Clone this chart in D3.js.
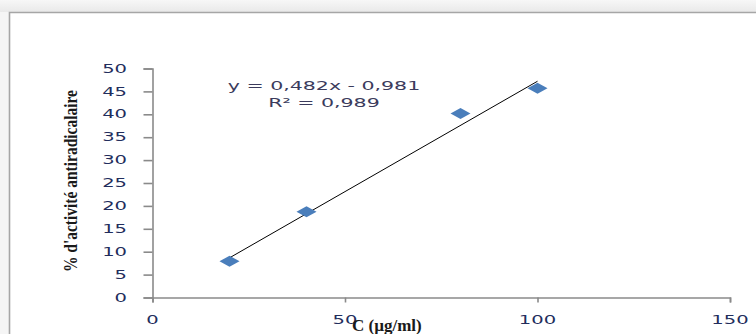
<!DOCTYPE html>
<html>
<head>
<meta charset="utf-8">
<script src="https://cdn.jsdelivr.net/npm/d3@7"></script>
<style>
  body { margin: 0; background: #fff; }
  svg { display: block; }
</style>
</head>
<body>
<div id="chart"></div>
<script>
// data
const concentrations = [20, 40, 80, 100];
const activity = [7.9, 18.7, 40.2, 45.7];
const xTickValues = [0, 50, 100, 150];
const yTickValues = [0, 5, 10, 15, 20, 25, 30, 35, 40, 45, 50];
const slope = 0.482, intercept = -0.981;
const equationLines = ["y = 0,482x - 0,981", "R² = 0,989"];

const width = 756, height = 334;
const svg = d3.select("#chart").append("svg")
    .attr("width", width)
    .attr("height", height);

// light grey strip around the chart frame
let grad = svg.append("defs").append("linearGradient")
    .attr("id", "topfade").attr("x1", 0).attr("y1", 0).attr("x2", 0).attr("y2", 1);
grad.append("stop").attr("offset", "0%").attr("stop-color", "#f7f7f7");
grad.append("stop").attr("offset", "100%").attr("stop-color", "#e9e9e9");
svg.append("rect").attr("x", 0).attr("y", 0).attr("width", width).attr("height", height).attr("fill", "#f5f5f5");
svg.append("rect").attr("x", 0).attr("y", 0).attr("width", width).attr("height", 12).attr("fill", "url(#topfade)");
svg.append("rect").attr("x", 9).attr("y", 12).attr("width", width).attr("height", height)
    .attr("fill", "#fff");
svg.append("path")
    .attr("d", "M9.5," + height + "V12.5H" + width)
    .attr("fill", "none").attr("stroke", "#a6a6a6").attr("stroke-width", 1.6);

// scales
let x = d3.scaleLinear().domain([0, 150]).range([152.5, 730]);
let y = d3.scaleLinear().domain([0, 50]).range([297.5, 68.5]);

const axisColor = "#8a8a8a";
const labelColor = "#222d5c";

// Y axis
svg.append("g")
    .attr("transform", "translate(" + x(0) + ",0)")
    .call(d3.axisLeft(y).tickValues(yTickValues).tickSize(9).tickFormat(""));
// X axis
svg.append("g")
    .attr("transform", "translate(0," + y(0) + ")")
    .call(d3.axisBottom(x).tickValues(xTickValues).tickSize(5).tickFormat(""));
svg.selectAll(".domain, .tick line")
    .attr("stroke", axisColor).attr("stroke-width", 1.6);

// tick labels (wide Verdana-like look, stretched horizontally)
svg.append("g").selectAll("text")
    .data(yTickValues)
    .join("text")
    .attr("transform", d => "translate(127," + y(d) + ") scale(1.7,1)")
    .attr("text-anchor", "end")
    .attr("dy", "0.36em")
    .attr("font-family", "DejaVu Sans")
    .attr("font-size", 11.5)
    .attr("fill", labelColor)
    .text(d => d);

svg.append("g").selectAll("text")
    .data(xTickValues)
    .join("text")
    .attr("transform", d => "translate(" + x(d) + ",320) scale(1.7,1)")
    .attr("text-anchor", "middle")
    .attr("dy", "0.36em")
    .attr("font-family", "DejaVu Sans")
    .attr("font-size", 11.5)
    .attr("fill", labelColor)
    .text(d => d);

// axis titles
svg.append("text")
    .attr("x", 352).attr("y", 331)
    .attr("font-family", "Liberation Serif")
    .attr("font-weight", "bold")
    .attr("font-size", 17)
    .attr("fill", "#1a1a1a")
    .text("C (µg/ml)");

svg.append("text")
    .attr("transform", "translate(77,181) rotate(-90)")
    .attr("text-anchor", "middle")
    .attr("font-family", "Liberation Serif")
    .attr("font-weight", "bold")
    .attr("font-size", 18)
    .attr("textLength", 182)
    .attr("lengthAdjust", "spacingAndGlyphs")
    .attr("fill", "#1a1a1a")
    .text("% d'activité antiradicalaire");

// linear trendline
let xExt = d3.extent(concentrations);
svg.append("line")
    .attr("x1", x(xExt[0])).attr("y1", y(slope * xExt[0] + intercept))
    .attr("x2", x(xExt[1])).attr("y2", y(slope * xExt[1] + intercept))
    .attr("stroke", "#000").attr("stroke-width", 1);

// diamond markers
svg.append("g").selectAll("path")
    .data(concentrations)
    .join("path")
    .attr("transform", (d, i) => "translate(" + x(d) + "," + y(activity[i]) + ")")
    .attr("d", "M-10,0L0,-5.5L10,0L0,5.5Z")
    .attr("fill", "#4a7ebb");

// equation label
svg.append("g").selectAll("text")
    .data(equationLines)
    .join("text")
    .attr("transform", (d, i) => "translate(324," + (85 + i * 17) + ") scale(1.58,1)")
    .attr("text-anchor", "middle")
    .attr("dy", "0.36em")
    .attr("font-family", "DejaVu Sans")
    .attr("font-size", 13)
    .attr("fill", "#3b3b5c")
    .text(d => d);
</script>
</body>
</html>
